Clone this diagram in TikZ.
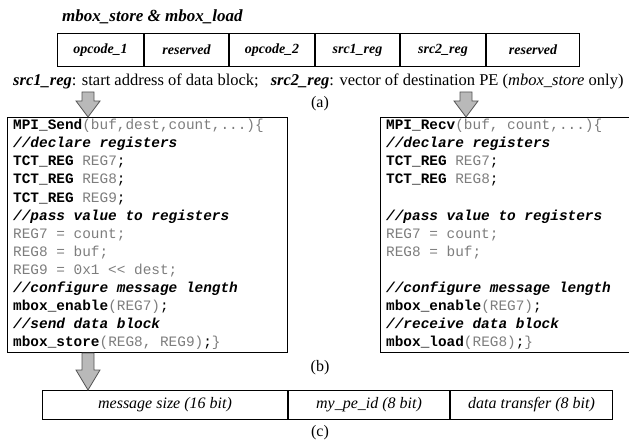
\documentclass[tikz,border=0pt]{standalone}
\usepackage{fontspec}
\setmainfont{Liberation Serif}
\newfontfamily\codefont{Liberation Mono}
\usetikzlibrary{calc}
\definecolor{argtext}{RGB}{125,125,125}
\definecolor{arrowfill}{RGB}{185,185,185}
\definecolor{arrowedge}{RGB}{85,85,85}
\newcommand\argt[1]{\textcolor{argtext}{#1}}
\newcommand\kw[1]{\textbf{#1}}
\newcommand\cmt[1]{\textbf{\textit{#1}}}
% block arrow from #1 down to #2, head length #3
\newcommand\blockarrow[3]{%
  \draw[fatarrow] let \p1=#1, \p2=#2 in
    (\x1-6pt,\y1) -- (\x1+6pt,\y1) -- (\x1+6pt,\y2+#3) -- (\x1+12pt,\y2+#3)
    -- (\x1,\y2) -- (\x1-12pt,\y2+#3) -- (\x1-6pt,\y2+#3) -- cycle;}
\begin{document}
\begin{tikzpicture}[x=1pt,y=-1pt,
  every node/.style={inner sep=0pt},
  fatarrow/.style={fill=arrowfill, draw=arrowedge, line width=0.8pt, line join=miter},
  cell/.style={draw, line width=1pt, minimum height=33pt, anchor=north west,
    font=\fontsize{14}{16}\selectfont\bfseries\itshape},
  fcell/.style={draw, line width=1pt, minimum height=29pt, anchor=north west,
    font=\fontsize{16}{18}\selectfont\itshape},
  codebox/.style={draw, line width=1pt, anchor=north west, minimum height=235pt},
  code/.style={anchor=north west, align=left,
    font=\codefont\fontsize{14.4}{18.1}\selectfont},
  lbl/.style={font=\fontsize{16}{18}\selectfont}]
\useasboundingbox (0,0) rectangle (629,441);

% (a) instruction format
\node[anchor=west, font=\fontsize{17}{19}\selectfont\bfseries\itshape] (title) at (62,17)
  {mbox\_store \& mbox\_load};
\node[cell, minimum width=86pt] (c1) at (57,33) {opcode\_1};
\node[cell, minimum width=84pt] (c2) at (c1.north east) {reserved};
\node[cell, minimum width=85pt] (c3) at (c2.north east) {opcode\_2};
\node[cell, minimum width=84pt] (c4) at (c3.north east) {src1\_reg};
\node[cell, minimum width=85pt] (c5) at (c4.north east) {src2\_reg};
\node[cell, minimum width=93pt] (c6) at (c5.north east) {reserved};

\node[anchor=west, font=\fontsize{16.5}{19}\selectfont] (caption) at (13,81)
  {\textbf{\textit{src1\_reg}}: start address of data block;\hspace{12pt}\textbf{\textit{src2\_reg}}: vector of destination PE (\textit{mbox\_store} only)};
\node[lbl] (la) at (320,104) {(a)};

% (b) code of the two calls
\node[codebox, minimum width=280pt] (sendbox) at (7,117) {};
\node[codebox, minimum width=262pt] (recvbox) at (380,117) {};

\node[code] (sendcode) at ($(sendbox.north west)+(6,2)$) {%
\kw{MPI\_Send}\argt{(buf,dest,count,...)\{}\\
\cmt{//declare registers}\\
\kw{TCT\_REG} \argt{REG7};\\
\kw{TCT\_REG} \argt{REG8};\\
\kw{TCT\_REG} \argt{REG9};\\
\cmt{//pass value to registers}\\
\argt{REG7 = count;}\\
\argt{REG8 = buf;}\\
\argt{REG9 = 0x1 << dest;}\\
\cmt{//configure message length}\\
\kw{mbox\_enable}\argt{(REG7)};\\
\cmt{//send data block}\\
\kw{mbox\_store}\argt{(REG8, REG9)};\argt{\}}};

\node[code] (recvcode) at ($(recvbox.north west)+(6,2)$) {%
\kw{MPI\_Recv}\argt{(buf, count,...)\{}\\
\cmt{//declare registers}\\
\kw{TCT\_REG} \argt{REG7};\\
\kw{TCT\_REG} \argt{REG8};\\
\mbox{}\\
\cmt{//pass value to registers}\\
\argt{REG7 = count;}\\
\argt{REG8 = buf;}\\
\mbox{}\\
\cmt{//configure message length}\\
\kw{mbox\_enable}\argt{(REG7)};\\
\cmt{//receive data block}\\
\kw{mbox\_load}\argt{(REG8)};\argt{\}}};

\node[lbl] (lb) at (320,368) {(b)};

% (c) message header
\node[fcell, minimum width=245pt] (m1) at (42,390) {message size (16 bit)};
\node[fcell, minimum width=161pt] (m2) at (m1.north east) {my\_pe\_id (8 bit)};
\node[fcell, minimum width=162pt] (m3) at (m2.north east) {data transfer (8 bit)};
\node[lbl] (lc) at (320,433) {(c)};

% arrows
\coordinate (srcL) at (88,92);
\coordinate (srcR) at (466,92);
\blockarrow{(srcL)}{(srcL |- sendbox.north)}{16pt}
\blockarrow{(srcR)}{(srcR |- recvbox.north)}{16pt}
\coordinate (outL) at (srcL |- sendbox.south);
\blockarrow{(outL)}{(outL |- m1.north)}{20pt}
\end{tikzpicture}
\end{document}
